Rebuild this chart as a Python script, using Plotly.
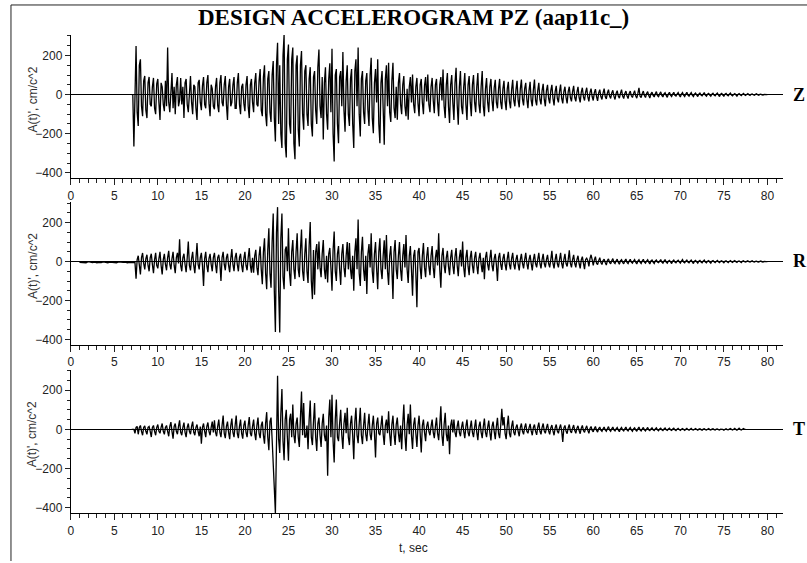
import plotly.graph_objects as go

W, H = 807, 563

# ---------------- data ----------------
DT = 0.125          # sample step of the main records, s
R_PRE_DT = 0.25     # sample step of the small pre-event noise on R, s

Z_T0 = 7.0
z_vals = [
    0, 0, -265, 120, 248, -90, -160, 150,            # 7
    180, -60, -110, 70, 95, -80, -120, 60,           # 8
    90, -50, -60, 40, 85, -70, -100, 55,             # 9
    80, -40, -130, 60, 40, -50, -85, 70,             # 10
    -60, 240, -40, -90, 60, 110, -70, 40,            # 11
    -100, 50, 90, -60, -30, 85, -50, 40,             # 12
    -120, 60, 80, -50, -90, 45, 95, -40,             # 13
    -100, 50, 40, -70, -130, 60, 75, -40,            # 14
    -80, 45, 90, -50, -70, 60, 100, -45,             # 15
    -110, 50, 30, -60, -75, 40, 85, -55,             # 16
    -90, 60, 100, -40, -60, 50, 95, -50,             # 17
    -130, 40, 80, -60, -40, 50, 90, -70,             # 18
    -70, 60, 110, -50, -100, 40, 55, -45,            # 19
    -85, 50, 95, -60, -120, 50, 80, -40,             # 20
    -90, 60, 110, -50, -60, 70, 130, -80,            # 21
    -110, 90, 150, -100, -162, 80, 120, -90,         # 22
    -140, 100, 171, -120, -240, 150, 265, -150,      # 23
    150, -200, -273, 200, 307, -250, -321, 180,      # 24
    256, -150, -200, 180, 240, -250, -330, 150,      # 25
    200, -180, -265, 150, 222, -100, -180, 120,      # 26
    150, -100, -160, 80, 140, -150, -214, 90,        # 27
    120, -80, -150, 140, 230, -60, -120, 90,         # 28
    -230, 60, 140, -100, -180, 80, 160, -90,         # 29
    234, -200, -342, 100, 130, -150, -248, 90,       # 30
    120, -60, 217, -80, -190, 70, 150, -100,         # 31
    -160, 80, 130, -150, -273, 120, 180, -60,        # 32
    240, -100, -214, 80, 120, -90, -150, 70,         # 33
    110, -80, -160, 100, 188, -120, -197, 60,        # 34
    130, -40, 180, -150, -248, 60, 120, -70,         # 35
    -256, 80, 150, -60, 162, -90, -140, 70,          # 36
    162, -70, -120, 40, -128, 60, 110, -50,          # 37
    -100, 50, 95, -60, -110, 30, -128, 40,           # 38
    90, -40, 102, -50, -95, 40, 85, -45,             # 39
    -110, 50, 80, -40, -100, 45, 90, -35,            # 40
    103, -50, -90, 40, 85, -30, -95, 50,             # 41
    80, -40, -110, 50, 90, -30, 128, -60,            # 42
    -120, 50, 110, -60, -145, 50, 100, -40,          # 43
    -130, 60, 137, -50, -154, 40, 120, -60,          # 44
    -100, 40, 110, -50, -130, 50, 95, -40,           # 45
    -110, 50, 100, -40, -90, 40, 110, -50,           # 46
    -95, 40, 120, -60, -111, 30, 85, -40,            # 47
    -90, 40, 80, -30, -85, 35, 75, -40,              # 48
    -70, 30, 80, -40, -75, 30, 70, -35,              # 49
    -80, 30, 65, -35, -70, 25, 75, -30,              # 50
    -60, 25, 70, -30, -65, 30, 77, -25,              # 51
    -55, 30, 60, -25, -70, 20, 65, -30,              # 52
    -60, 25, 77, -30, -55, 20, 60, -25,              # 53
    -50, 20, 55, -25, -60, 20, 50, -20,              # 54
    -45, 20, 50, -20, -55, 15, 45, -20,              # 55
    -40, 15, 51, -20, -45, 15, 40, -15,              # 56
    -45, 15, 40, -15, -35, 15, 45, -15,              # 57
    -35, 12, 40, -15, -40, 12, 35, -12,              # 58
    -30, 12, 35, -12, -35, 10, 30, -10,              # 59
    -30, 10, 28, -10, -32, 8, 25, -10,               # 60
    -25, 8, 30, -10, -22, 8, 25, -8,                 # 61
    -20, 8, 22, -8, -25, 6, 20, -8,                  # 62
    -18, 6, 25, -8, -20, 6, 18, -6,                  # 63
    -20, 6, 18, -6, -15, 5, 20, -6,                  # 64
    -18, 6, 34, -8, -15, 5, 18, -5,                  # 65
    -15, 5, 15, -5, -18, 4, 12, -4,                  # 66
    -12, 4, 15, -5, -10, 4, 14, -4,                  # 67
    -12, 4, 10, -4, -14, 3, 12, -3,                  # 68
    -10, 3, 12, -4, -8, 3, 10, -3,                   # 69
    -12, 3, 10, -3, -10, 3, 12, -3,                  # 70
    -8, 3, 10, -3, -10, 2, 8, -2,                    # 71
    -10, 2, 8, -2, -6, 2, 10, -3,                    # 72
    -8, 2, 6, -2, -8, 2, 7, -2,                      # 73
    -6, 2, 8, -2, -10, 2, 6, -2,                     # 74
    -8, 2, 6, -2, -6, 2, 8, -2,                      # 75
    -6, 1, 5, -1, -8, 1, 5, -1,                      # 76
    -5, 1, 6, -1, -4, 1, 5, -1,                      # 77
    -4, 1, 3, -1, -3, 1, 4, -1,                      # 78
    -3, 1, 2, -1, -2, 1, 0, 0,                       # 79
    0,                                               # 80
]

R_PRE_T0 = 1.0
r_pre = [-4, -5, -3, -6, 0, -4, -5, -3, -6, -4, -5, -2,
         -4, -6, -3, -5, -4, -6, -2, -5, -4, -3, -6, -4]

R_T0 = 7.0
r_vals = [
    -5, -4, -3, -5, -88, 10, 30, -20,                # 7
    -66, 20, 44, -10, -40, 15, 35, -20,              # 8
    -50, 20, 40, -15, -60, 10, 45, -20,              # 9
    -35, 15, 50, -20, -66, 10, 40, -15,              # 10
    -45, 20, 55, -15, -40, 15, 50, -20,              # 11
    -60, 20, 45, -10, 115, -20, -50, 20,             # 12
    40, -15, -55, 20, 103, -20, -45, 15,             # 13
    50, -20, -60, 15, 95, -15, -40, 20,              # 14
    45, -20, -125, 15, 50, -20, -55, 15,             # 15
    40, -15, -50, 20, 45, -15, -60, 20,              # 16
    35, -10, -100, 20, 50, -15, -45, 20,             # 17
    40, -20, -55, 15, 64, -15, -49, 20,              # 18
    45, -15, -50, 20, 40, -20, -55, 15,              # 19
    50, -20, -45, 20, 69, -20, -57, 20,              # 20
    -57, 30, 60, -30, -70, 30, 78, -40,              # 21
    -117, 50, 120, -60, -142, 60, 171, -60,          # 22
    -134, 100, 247, -150, -362, 150, 280, -150,      # 23
    -365, 120, 247, -80, -142, 60, 78, -50,          # 24
    171, -60, -125, 50, 111, -40, -90, 50,           # 25
    145, -40, -80, 60, 165, -50, -100, 40,           # 26
    120, -50, -110, 80, 204, -100, -193, 60,         # 27
    -170, 50, 90, -40, 103, -30, -80, 40,            # 28
    111, -40, -90, 30, -108, 40, 70, -30,            # 29
    -150, 60, 154, -50, -100, 40, 80, -40,           # 30
    -120, 40, 90, -30, -80, 30, 100, -40,            # 31
    95, -40, -90, 30, -150, 50, 120, -40,            # 32
    216, -60, -125, 50, 128, -40, -100, 30,          # 33
    -167, 40, 90, -30, 145, -50, -110, 40,           # 34
    100, -40, -142, 50, 120, -40, -90, 30,           # 35
    110, -40, 137, -50, -120, 30, 80, -30,           # 36
    -193, 50, 111, -40, -90, 30, 100, -40,           # 37
    -100, 30, 90, -30, 137, -40, -110, 30,           # 38
    80, -40, -176, 30, 60, -60, -235, 50,            # 39
    70, -30, -90, 30, 95, -30, -80, 25,              # 40
    75, -25, -70, 30, 80, -30, -85, 20,              # 41
    60, -20, 145, -40, -134, 30, 70, -20,            # 42
    -60, 20, 55, -25, -70, 20, 60, -20,              # 43
    -65, 25, 70, -20, -75, 20, 60, -25,              # 44
    103, -30, -80, 20, 60, -25, -70, 20,             # 45
    55, -20, -60, 20, 50, -20, -65, 15,              # 46
    45, -15, -55, 20, -91, 20, 50, -15,              # 47
    -45, 15, 61, -20, -50, 15, 40, -15,              # 48
    -100, 20, 45, -15, -43, 15, 40, -15,             # 49
    -45, 15, 50, -15, -40, 15, 45, -15,              # 50
    -40, 10, 35, -15, -45, 10, 40, -10,              # 51
    -35, 10, 45, -10, -40, 10, 35, -10,              # 52
    -45, 10, 40, -10, -30, 10, 45, -10,              # 53
    -35, 10, 40, -10, -30, 10, 35, -10,              # 54
    -30, 10, 55, -10, -35, 10, 40, -10,              # 55
    -30, 10, 45, -10, -35, 10, 40, -10,              # 56
    -25, 10, 58, -10, -30, 10, 35, -10,              # 57
    -30, 10, 30, -10, -35, 8, 25, -8,                # 58
    -39, 10, 17, 5, -25, 15, 35, 10,                 # 59
    -20, 8, 25, -8, -15, 5, 20, -5,                  # 60
    -15, 5, 12, -5, -18, 5, 14, -4,                  # 61
    -12, 4, 15, -4, -10, 4, 12, -4,                  # 62
    -14, 4, 10, -4, -12, 4, 13, -4,                  # 63
    -10, 3, 12, -3, -8, 3, 10, -3,                   # 64
    -12, 3, 10, -3, -10, 3, 12, -3,                  # 65
    -8, 3, 10, -3, -12, 3, 8, -3,                    # 66
    -10, 3, 8, -3, -6, 2, 10, -3,                    # 67
    -8, 2, 10, -3, -8, 2, 6, -2,                     # 68
    -10, 2, 8, -2, -6, 2, 7, -2,                     # 69
    -8, 2, 10, -2, -6, 2, 8, -2,                     # 70
    -6, 2, 8, -2, -10, 2, 6, -2,                     # 71
    -8, 2, 6, -2, -6, 2, 8, -2,                      # 72
    -6, 2, 5, -2, -8, 2, 5, -1,                      # 73
    -5, 1, 6, -1, -5, 1, 4, -1,                      # 74
    -6, 1, 4, -1, -5, 1, 5, -1,                      # 75
    -4, 1, 5, -1, -4, 1, 3, -1,                      # 76
    -5, 1, 4, -1, -3, 1, 4, -1,                      # 77
    -3, 1, 4, -1, -3, 1, 2, -1,                      # 78
    -2, 1, 3, -1, -2, 1, 2, 0,                       # 79
    0,                                               # 80
]

T_T0 = 7.0
t_vals = [
    0, 0, 0, -20, 10, 15, -25, 10,                   # 7
    20, -10, -30, 10, 18, -10, -25, 10,              # 8
    15, -10, -39, 10, 20, -10, -30, 10,              # 9
    25, -10, -20, 10, 30, -10, -25, 10,              # 10
    20, -10, -35, 15, 37, -10, -47, 15,              # 11
    30, -10, -25, 15, 46, -15, -30, 10,              # 12
    35, -15, -40, 10, 30, -10, -25, 15,              # 13
    40, -15, -30, 10, 25, -10, -35, 15,              # 14
    -73, 10, 30, -10, -40, 15, 35, -10,              # 15
    -30, 10, 40, -15, 46, -15, -35, 15,              # 16
    50, -15, -40, 20, 71, -20, -45, 15,              # 17
    40, -15, -50, 20, 55, -15, -40, 20,              # 18
    71, -20, -45, 15, 50, -20, -47, 20,              # 19
    45, -15, -40, 20, 63, -20, -35, 15,              # 20
    50, -20, -55, 20, 60, -20, -45, 20,              # 21
    40, -30, -73, 30, 88, -40, -106, 40,             # 22
    60, -50, -216, -300, -430, 100, 274, -50,        # 23
    -120, 80, 206, -60, -157, 50, 100, -40,          # 24
    -160, 50, 80, -40, 127, -30, -70, 30,            # 25
    60, -40, -90, 60, 194, -30, 135, -40,            # 26
    -40, 20, -101, 50, 147, -40, -80, 40,            # 27
    135, -40, -110, 30, 60, -30, -90, 30,            # 28
    80, -30, -60, 20, -237, 60, 152, -40,            # 29
    177, -60, -169, 50, 152, -40, -60, 30,           # 30
    100, -30, -100, 30, 85, -20, 110, -40,           # 31
    -80, 30, 70, -30, -152, 40, 110, -30,            # 32
    -70, 30, 110, -30, -75, 20, 85, -25,             # 33
    -60, 20, 80, -25, -55, 20, 70, -20,              # 34
    -144, 30, 60, -20, -30, 20, 70, -25,             # 35
    -80, 20, 50, -20, 93, -25, -85, 25,              # 36
    70, -25, -80, 25, 60, -20, -65, 20,              # 37
    -101, 30, 127, -30, -110, 25, 80, -25,           # 38
    127, -30, -100, 25, 60, -20, -90, 20,            # 39
    70, -20, -118, 20, 50, -15, -60, 15,             # 40
    40, -10, -30, 15, 50, -15, -45, 15,              # 41
    60, -20, -55, 25, 118, -30, -85, 25,             # 42
    85, -25, -60, 20, -127, 20, 50, -15,             # 43
    50, -15, -40, 15, 45, -15, -35, 10,              # 44
    40, -10, -45, 15, 50, -15, -35, 10,              # 45
    45, -15, -40, 10, 50, -15, -55, 15,              # 46
    40, -15, -45, 15, 55, -15, -40, 10,              # 47
    45, -15, -56, 15, 40, -10, -50, 15,              # 48
    59, -20, -45, 20, 105, 20, 63, -20,              # 49
    -50, 20, 70, -20, -40, 15, 45, -15,              # 50
    -30, 10, 25, -10, -35, 10, 30, -10,              # 51
    -25, 10, 30, -10, -20, 8, 28, -8,                # 52
    -30, 10, 25, -10, -28, 10, 35, -10,              # 53
    -25, 10, 30, -8, -20, 8, 28, -8,                 # 54
    -25, 8, 22, -8, -30, 8, 25, -8,                  # 55
    -20, 8, 25, -8, -64, 8, 20, -8,                  # 56
    -22, 8, 25, -8, -18, 6, 22, -6,                  # 57
    -20, 6, 18, -6, -22, 6, 20, -6,                  # 58
    -15, 5, 18, -5, -20, 5, 15, -5,                  # 59
    -12, 4, 15, -4, -14, 4, 12, -4,                  # 60
    -10, 3, 12, -3, -10, 3, 14, -3,                  # 61
    -10, 3, 12, -3, -8, 3, 10, -3,                   # 62
    -12, 3, 10, -3, -8, 3, 12, -3,                   # 63
    -8, 3, 10, -3, -10, 3, 8, -2,                    # 64
    -10, 3, 12, -3, -8, 2, 10, -2,                   # 65
    -8, 2, 10, -2, -6, 2, 8, -2,                     # 66
    -6, 2, 8, -2, -7, 2, 6, -2,                      # 67
    -6, 2, 7, -2, -5, 2, 6, -2,                      # 68
    -5, 2, 6, -2, -6, 1, 5, -1,                      # 69
    -5, 1, 4, -1, -5, 1, 5, -1,                      # 70
    -4, 1, 5, -1, -3, 1, 4, -1,                      # 71
    -4, 1, 3, -1, -4, 1, 3, -1,                      # 72
    -3, 1, 4, -1, -3, 1, 3, -1,                      # 73
    -3, 1, 2, -1, -3, 1, 2, 0,                       # 74
    -4, 1, 3, -1, -2, 1, 4, 0,                       # 75
    -3, 1, 5, 0, -4, 1, 6, 0,                        # 76
    -3, 1, 4, 0, 0,                                  # 77
]

x_tick_vals = list(range(0, 85, 5))
y_tick_vals = [-400, -200, 0, 200]
channel_labels = ["Z", "R", "T"]
title_text = "DESIGN ACCELEROGRAM PZ (aap11c_)"
y_label_text = "A(t)', cm/c^2"
x_label_text = "t, sec"


def times(t0, step, vals):
    return [round(t0 + step * i, 4) for i in range(len(vals))]


# ---------------- layout helpers (pixels -> paper) ----------------
def px(x):
    return x / W


def py(y):
    return 1 - y / H


X_LEFT, X_RIGHT = 68, 783
panels = [  # (top px, bottom px, zero-line px)
    (35, 179, 95),
    (203, 346, 262),
    (371, 515, 431),
]
Y_RANGE = [-428, 305]
X_RANGE = [0, 81.8]

series = [
    (times(Z_T0, DT, z_vals), z_vals),
    (times(R_PRE_T0, R_PRE_DT, r_pre) + times(R_T0, DT, r_vals), r_pre + r_vals),
    (times(T_T0, DT, t_vals), t_vals),
]

fig = go.Figure()
tick_font = dict(family="Liberation Sans, Arial, sans-serif", size=12, color="#222")

for k, (xs, ys) in enumerate(series):
    suffix = "" if k == 0 else str(k + 1)
    fig.add_trace(go.Scatter(
        x=xs, y=ys, mode="lines",
        line=dict(color="black", width=1.3),
        xaxis="x" + suffix, yaxis="y" + suffix,
        showlegend=False, hoverinfo="skip",
    ))
    top, bot, zero = panels[k]
    fig.layout["xaxis" + suffix] = dict(
        domain=[px(X_LEFT), px(X_RIGHT)],
        anchor="y" + suffix,
        range=X_RANGE,
        tickvals=x_tick_vals,
        ticks="outside", ticklen=6, tickwidth=1, tickcolor="#222",
        minor=dict(dtick=1, tick0=0, ticks="outside", ticklen=4,
                   tickcolor="#222", showgrid=False),
        showline=True, linecolor="black", linewidth=1,
        showgrid=False, zeroline=False,
        tickfont=tick_font,
    )
    fig.layout["yaxis" + suffix] = dict(
        domain=[py(bot), py(top)],
        anchor="x" + suffix,
        range=Y_RANGE,
        tickvals=y_tick_vals,
        ticks="outside", ticklen=5, tickwidth=1, tickcolor="#222",
        minor=dict(dtick=50, tick0=0, ticks="outside", ticklen=3,
                   tickcolor="#222", showgrid=False),
        showline=True, linecolor="black", linewidth=1,
        showgrid=False,
        zeroline=True, zerolinecolor="black", zerolinewidth=1,
        tickfont=tick_font,
    )

annotations = [
    dict(text="<b>" + title_text + "</b>", x=px(412), y=py(18),
         xref="paper", yref="paper", showarrow=False,
         xanchor="center", yanchor="middle",
         font=dict(family="Liberation Serif, Times New Roman, serif", size=23, color="black")),
    dict(text=x_label_text, x=px(412), y=py(550),
         xref="paper", yref="paper", showarrow=False,
         xanchor="center", yanchor="middle",
         font=dict(family="Liberation Sans, Arial, sans-serif", size=12, color="#222")),
]
for k, (top, bot, zero) in enumerate(panels):
    annotations.append(dict(
        text=y_label_text, x=px(30), y=py(zero + 5),
        xref="paper", yref="paper", showarrow=False, textangle=-90,
        xanchor="center", yanchor="middle",
        font=dict(family="Liberation Sans, Arial, sans-serif", size=12, color="#333")))
    annotations.append(dict(
        text="<b>" + channel_labels[k] + "</b>", x=px(791), y=py(zero),
        xref="paper", yref="paper", showarrow=False,
        xanchor="left", yanchor="middle",
        font=dict(family="Liberation Serif, Times New Roman, serif", size=18, color="black")))

shapes = [
    dict(type="line", xref="paper", yref="paper", x0=px(8), x1=px(8), y0=py(5), y1=0,
         line=dict(color="#222", width=1)),
    dict(type="line", xref="paper", yref="paper", x0=px(8), x1=1, y0=py(5), y1=py(5),
         line=dict(color="#222", width=1)),
]

fig.update_layout(
    width=W, height=H,
    margin=dict(l=0, r=0, t=0, b=0),
    paper_bgcolor="white", plot_bgcolor="white",
    annotations=annotations, shapes=shapes,
)

fig.write_html("out.html",
               config={"displayModeBar": False},
               post_script="document.body.style.margin='0';document.body.style.overflow='hidden';")
